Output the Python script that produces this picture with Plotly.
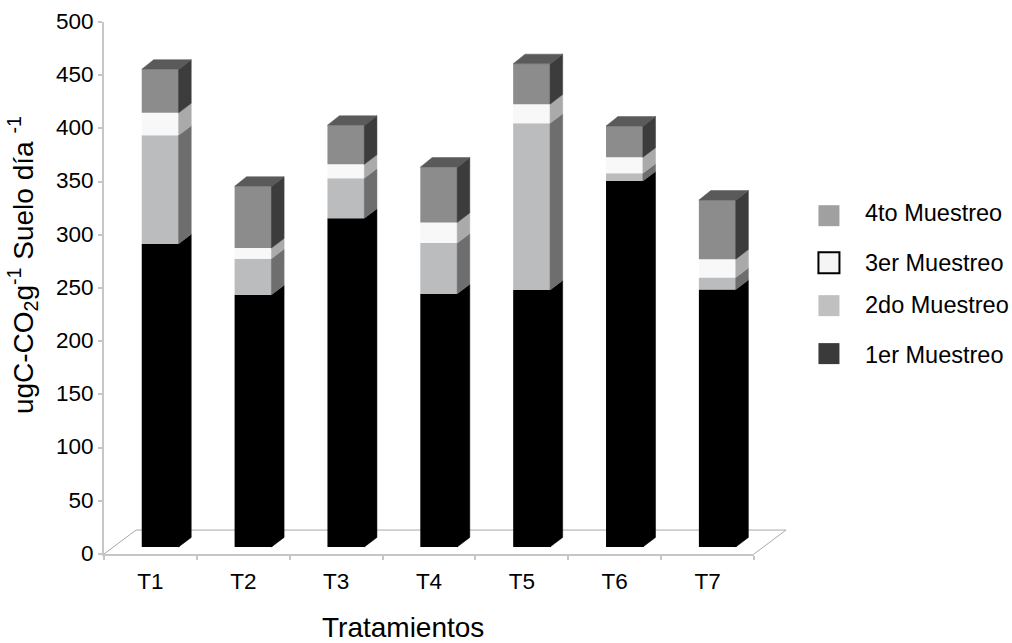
import plotly.graph_objects as go

# Respiration per sampling round, per treatment
treatments = ["T1", "T2", "T3", "T4", "T5", "T6", "T7"]
muestreo_1 = [285, 237, 309, 238, 241.5, 344, 242]
muestreo_2 = [102, 34, 37.6, 47.6, 156.7, 7.2, 11.3]
muestreo_3 = [21, 10, 13, 19.4, 18, 15, 17.2]
muestreo_4 = [41, 58, 36.7, 52, 38, 29.4, 55.5]
y_ticks = [0, 50, 100, 150, 200, 250, 300, 350, 400, 450, 500]

series = [muestreo_1, muestreo_2, muestreo_3, muestreo_4]
front_colors = ["#000000", "#bbbcbe", "#f8f8f8", "#8c8c8c"]
side_colors = ["#000000", "#6e6e6e", "#aaaaaa", "#3c3c3c"]
top_color = "#5a5a5a"
axis_color = "#c6c6c6"
floor_color = "#a8a8a8"

# Oblique projection, in data units
BAR_WIDTH = 0.405
BAR_SHIFT = 0.609
BAR_DX = 0.128
BAR_DY = 9.0
BASE_LIFT = 6.6
FLOOR_DX = 0.345
FLOOR_DY = 22.5
Y_MAX = 500
SEAM = 0.008  # side faces overlap the pixel-snapped bar edge

# Plot box in pixels
W, H = 1012, 643
LEFT, RIGHT, TOP, BOTTOM = 104, 753.6, 21.7, 554


def px(x):
    return (x - LEFT) / (RIGHT - LEFT)


def py(y):
    return (BOTTOM - y) / (BOTTOM - TOP)


fig = go.Figure()
n = len(treatments)

# Front faces are stacked bars; side and top faces follow from the same values
running = [BASE_LIFT] * n
for values, front, side in zip(series, front_colors, side_colors):
    fig.add_trace(go.Bar(
        x=[i + BAR_SHIFT for i in range(n)],
        y=values,
        base=running,
        width=BAR_WIDTH,
        marker=dict(color=front, line=dict(width=0)),
        showlegend=False,
    ))
    for i, (v, b) in enumerate(zip(values, running)):
        right = i + BAR_SHIFT + BAR_WIDTH / 2
        fig.add_trace(go.Scatter(
            x=[right - SEAM, right + BAR_DX, right + BAR_DX, right - SEAM, right - SEAM],
            y=[b, b + BAR_DY, b + v + BAR_DY, b + v, b],
            mode="lines",
            fill="toself",
            fillcolor=side,
            line=dict(width=0.5, color=side),
            hoverinfo="skip",
            showlegend=False,
        ))
    running = [b + v for b, v in zip(running, values)]

# Top cap of each column
for i, b in enumerate(running):
    left = i + BAR_SHIFT - BAR_WIDTH / 2
    right = left + BAR_WIDTH
    fig.add_trace(go.Scatter(
        x=[left, right, right + BAR_DX, left + BAR_DX, left],
        y=[b, b, b + BAR_DY, b + BAR_DY, b],
        mode="lines",
        fill="toself",
        fillcolor=top_color,
        line=dict(width=0.5, color=top_color),
        hoverinfo="skip",
        showlegend=False,
    ))

# Floor outline runs past the x axis, so it is placed on the paper and kept under the columns
fx, fy = FLOOR_DX / n, FLOOR_DY / Y_MAX
shapes = [dict(
    type="path",
    xref="paper",
    yref="paper",
    layer="below",
    path=f"M 0 0 L {fx} {fy} L {1 + fx} {fy} L 1 0",
    line=dict(color=floor_color, width=1),
)]

# Hand-placed key to the right of the plot
key = [
    ("4to Muestreo", "#a0a0a0", None, 205, 226, 213),
    ("3er Muestreo", "#f5f5f5", "#000000", 252, 273, 262.5),
    ("2do Muestreo", "#c0c0c0", None, 295, 316, 305),
    ("1er Muestreo", "#3a3a3a", None, 343, 364, 355),
]
annotations = []
for label, fill, outline, y0, y1, yt in key:
    shapes.append(dict(
        type="rect", xref="paper", yref="paper",
        x0=px(818), x1=px(839),
        y0=py(y1), y1=py(y0),
        fillcolor=fill,
        line=dict(color=outline or fill, width=2 if outline else 0),
    ))
    annotations.append(dict(
        text=label, xref="paper", yref="paper",
        x=px(862.5), y=py(yt),
        xanchor="left", yanchor="middle", showarrow=False,
        font=dict(size=23.5),
    ))

annotations.append(dict(
    text="Tratamientos", xref="paper", yref="paper",
    x=px(403), y=py(628),
    xanchor="center", yanchor="middle", showarrow=False,
    font=dict(size=28),
))
annotations.append(dict(
    text="ugC-CO<sub>2</sub>g<sup>-1</sup> Suelo día <sup>-1</sup>",
    xref="paper", yref="paper",
    x=px(23), y=py(265),
    xanchor="center", yanchor="middle", showarrow=False, textangle=-90,
    font=dict(size=28),
))

fig.update_layout(
    width=W,
    height=H,
    margin=dict(l=LEFT, r=W - RIGHT, t=TOP, b=H - BOTTOM, autoexpand=False),
    paper_bgcolor="white",
    plot_bgcolor="white",
    barmode="overlay",
    font=dict(family="Liberation Sans, Arial, sans-serif", color="#000000", size=22.5),
    shapes=shapes,
    annotations=annotations,
    showlegend=False,
    xaxis=dict(
        range=[0, n],
        tickmode="array",
        tickvals=[i + 0.5 for i in range(n)],
        ticktext=treatments,
        ticks="",
        showgrid=False,
        zeroline=False,
        showline=True,
        linecolor=axis_color,
        linewidth=2,
        tickfont=dict(size=22.5),
        ticklabelstandoff=6,
        minor=dict(
            tickmode="array",
            tickvals=list(range(n + 1)),
            ticks="outside",
            ticklen=4,
            tickwidth=2,
            tickcolor=axis_color,
            showgrid=False,
        ),
    ),
    yaxis=dict(
        range=[0, Y_MAX],
        tickmode="array",
        tickvals=y_ticks,
        ticks="outside",
        ticklen=4,
        tickwidth=2,
        tickcolor=axis_color,
        showgrid=False,
        zeroline=False,
        showline=True,
        linecolor=axis_color,
        linewidth=2,
        tickfont=dict(size=22.5),
        ticklabelshift=-1,
    ),
)

fig.write_html("out.html")
